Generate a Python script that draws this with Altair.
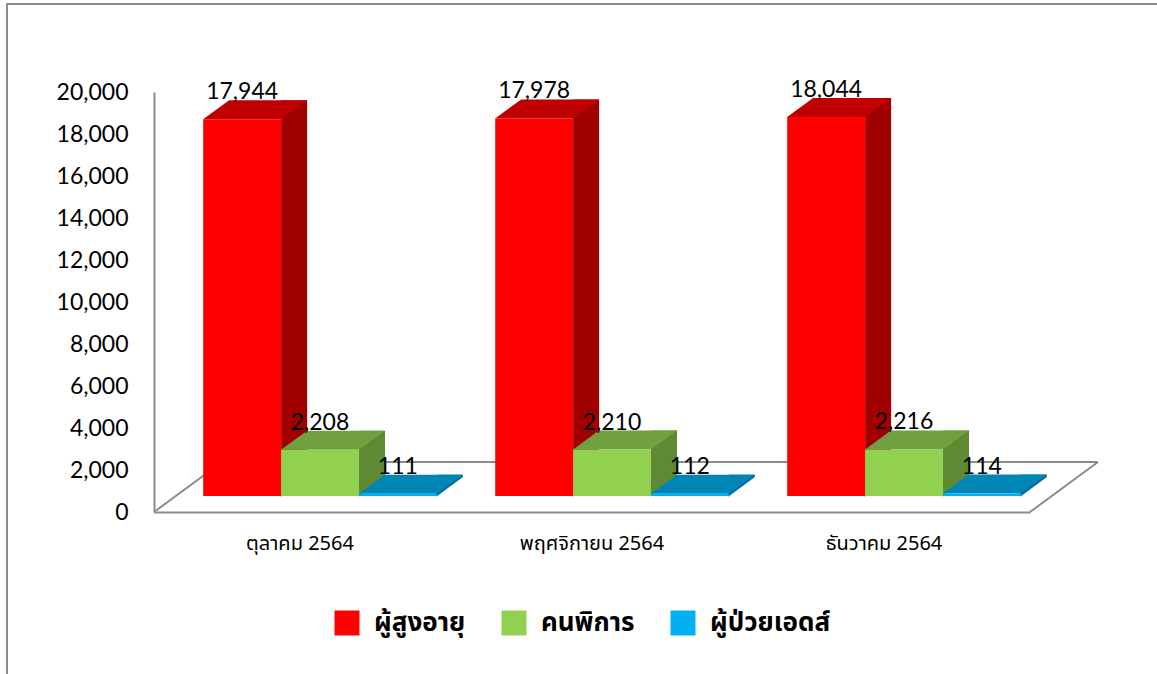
import altair as alt
import pandas as pd

months = ["ตุลาคม 2564", "พฤศจิกายน 2564", "ธันวาคม 2564"]
series = ["ผู้สูงอายุ", "คนพิการ", "ผู้ป่วยเอดส์"]
elderly = [17944, 17978, 18044]
disabled = [2208, 2210, 2216]
aids = [111, 112, 114]
y_ticks = [0, 2000, 4000, 6000, 8000, 10000, 12000, 14000, 16000, 18000, 20000]

front_colors = ["#FF0000", "#92D050", "#00B0F0"]
top_colors = ["#C00000", "#70A040", "#0086B6"]
side_colors = ["#A00000", "#5E8A34", "#006F99"]

rows = []
for s, vals in zip(series, [elderly, disabled, aids]):
    for m, v in zip(months, vals):
        rows.append({"month": m, "series": s, "value": v})
df = pd.DataFrame(rows)
one = pd.DataFrame({"k": [0]})

NUM_FONT = "Lato"
THAI_FONT = "Noto Sans Thai, Noto Sans, sans-serif"
GRAY = "#8C8C8C"

W, H = 876, 420
STEP = W / 3.0
BAND = STEP * 0.8

x_enc = alt.X("month:N", sort=months, title=None,
              scale=alt.Scale(paddingInner=0.2, paddingOuter=0.1),
              axis=alt.Axis(labelAngle=0, ticks=False, domainColor=GRAY, domainWidth=2,
                            labelFont=THAI_FONT, labelFontSize=20, labelColor="#000000",
                            labelPadding=21, labelFontWeight="normal"))
# sub-bands of the front faces, shifted by the 3-D depth
xo_enc = alt.XOffset("series:N", sort=series,
                     scale=alt.Scale(type="band", paddingInner=0, paddingOuter=0,
                                     range=[20, 20 + BAND]))
# side faces: same sub-bands, moved to the right edge of each front face
xo_side = alt.XOffset("series:N", sort=series,
                      scale=alt.Scale(type="band", paddingInner=0, paddingOuter=0,
                                      range=[72, 72 + BAND]))
y_axis = alt.Axis(values=y_ticks, format=",.0f", ticks=False, grid=False, domainColor=GRAY,
                  domainWidth=2, labelFont=NUM_FONT, labelFontSize=23, labelColor="#000000",
                  labelPadding=26)
y_scale = alt.Scale(domain=[0, 20000], nice=False)
y_enc = alt.Y("value:Q", title=None, scale=y_scale, axis=y_axis)
y_zero = alt.Y(datum=0, title=None, scale=y_scale, axis=y_axis)


def cscale(rng):
    return alt.Scale(domain=series, range=rng)


# frame lines
frame_v = alt.Chart(one).mark_rule(color=GRAY, strokeWidth=2).encode(
    x=alt.value(-147), y=alt.value(-88), y2=alt.value(600))
frame_h = alt.Chart(one).mark_rule(color=GRAY, strokeWidth=2).encode(
    x=alt.value(-148), x2=alt.value(1010), y=alt.value(-88))
# floor
floor_l = alt.Chart(one).mark_rule(color=GRAY, strokeWidth=2).encode(
    x=alt.value(0), x2=alt.value(68), y=alt.value(420), y2=alt.value(370))
floor_r = alt.Chart(one).mark_rule(color=GRAY, strokeWidth=2).encode(
    x=alt.value(876), x2=alt.value(944), y=alt.value(420), y2=alt.value(370))
floor_b = alt.Chart(one).mark_rule(color=GRAY, strokeWidth=2).encode(
    x=alt.value(68), x2=alt.value(944), y=alt.value(370))

base = alt.Chart(df)

side = base.mark_bar(width=26, yOffset=-35, y2Offset=-35).encode(
    x=x_enc, xOffset=xo_side, y=y_enc, y2=alt.datum(0),
    color=alt.Color("series:N", sort=series, scale=cscale(side_colors), legend=None))

tri = base.mark_point(shape="M 0.59 0.01 L 0.59 -0.2923 L 1 -0.2923 Z", size=16900,
                      filled=True, opacity=1, strokeWidth=0, yOffset=-16).encode(
    x=x_enc, xOffset=xo_enc, y=y_zero,
    color=alt.Color("series:N", sort=series, scale=cscale(side_colors), legend=None))

top = base.mark_point(shape="M -0.6 0 L 0.6 0 L 1 -0.2923 L -0.2 -0.2923 Z", size=16900,
                      filled=True, opacity=1, strokeWidth=0, yOffset=-16).encode(
    x=x_enc, xOffset=xo_enc, y=y_enc,
    color=alt.Color("series:N", sort=series, scale=cscale(top_colors), legend=None))

front = base.mark_bar(yOffset=-16, y2Offset=-16).encode(
    x=x_enc, xOffset=xo_enc, y=y_enc, y2=alt.datum(0),
    color=alt.Color("series:N", sort=series, scale=cscale(front_colors),
                    legend=alt.Legend(title=None, orient="none", legendX=180, legendY=518,
                                      direction="horizontal", symbolType="square",
                                      symbolSize=625, symbolStrokeWidth=0,
                                      labelFont=THAI_FONT, labelFontSize=26,
                                      labelFontWeight="bold", labelColor="#000000",
                                      labelOffset=14, columnPadding=35,
                                      labelLimit=400)))

labels = base.mark_text(font=NUM_FONT, fontSize=23, color="#000000", dy=-43,
                        baseline="middle").encode(
    x=x_enc, xOffset=xo_enc, y=y_enc, text=alt.Text("value:Q", format=","))

chart = alt.layer(frame_v, frame_h, floor_l, floor_r, floor_b, side, tri, top, front, labels).resolve_scale(
    color="independent", xOffset="independent"
).properties(
    width=W, height=H,
    background="#FFFFFF",
    autosize=alt.AutoSizeParams(type="none"),
    padding={"left": 154, "top": 92, "right": 127, "bottom": 162},
).configure_view(strokeWidth=0, stroke="transparent")

chart.save("out.html", embed_options={"renderer": "svg", "actions": False})
